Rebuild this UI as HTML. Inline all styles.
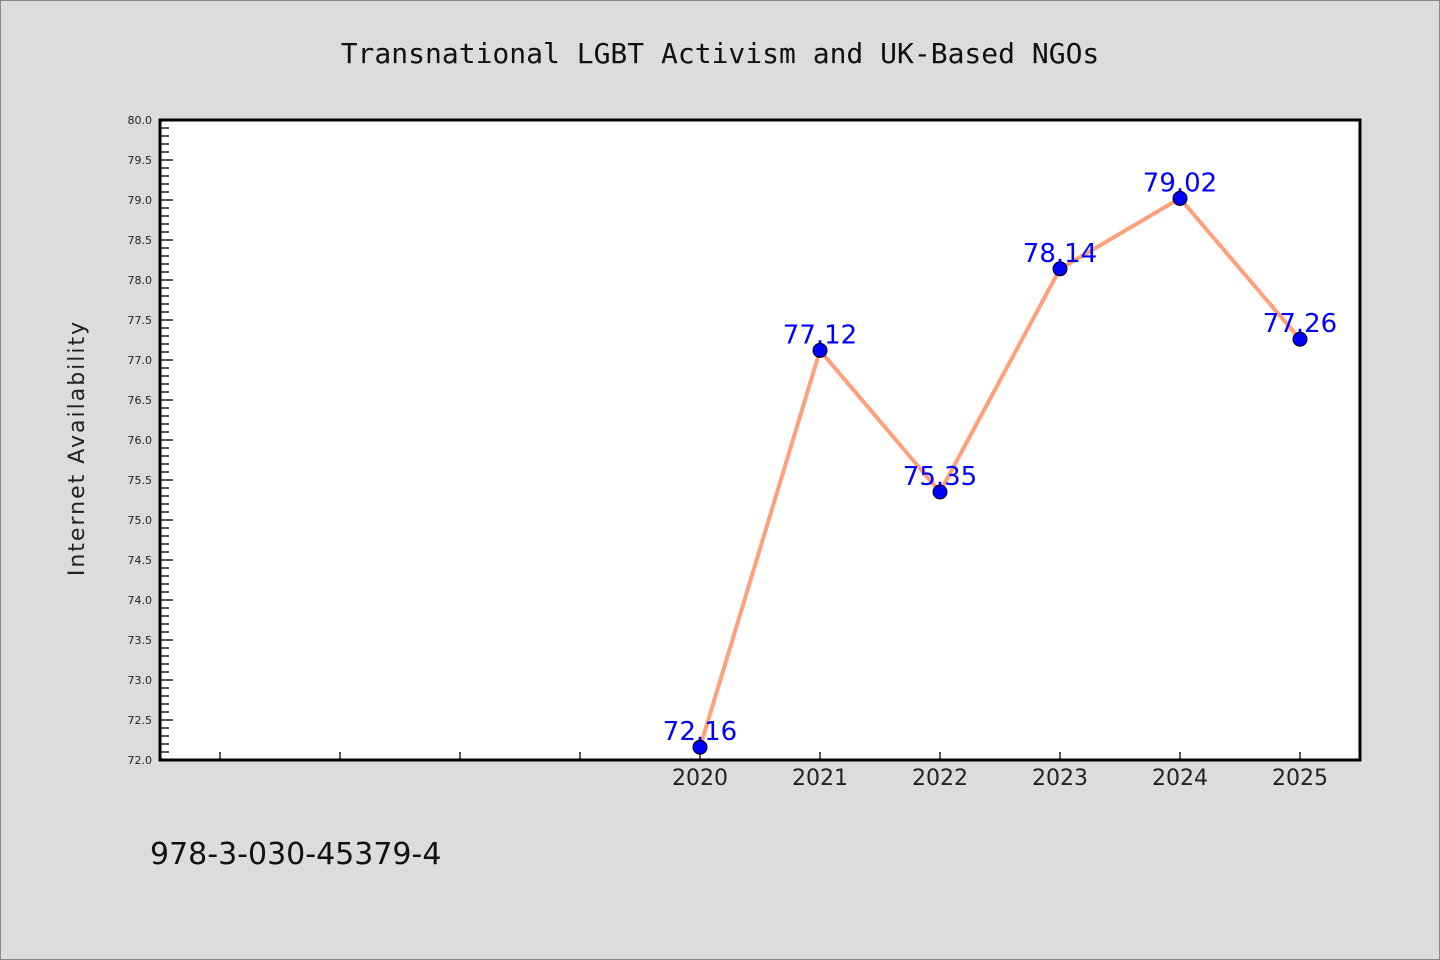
<!DOCTYPE html>
<html><head><meta charset="utf-8"><style>
html,body{margin:0;padding:0;background:#dcdcdc;}
svg{display:block;font-family:"DejaVu Sans","Liberation Sans",sans-serif;}
</style></head><body>
<svg width="1440" height="960" viewBox="0 0 1440 960">
<rect x="0.5" y="0.5" width="1439" height="959" fill="#dcdcdc" stroke="#888"/>
<text x="720" y="63" text-anchor="middle" font-family="DejaVu Sans Mono, Liberation Mono, monospace" font-size="28" fill="#111">Transnational LGBT Activism and UK-Based NGOs</text>
<rect x="160" y="120" width="1200" height="640" fill="#fff"/>
<g id="yticks"></g>
<g id="xticks"></g>
<rect x="160" y="120" width="1200" height="640" fill="none" stroke="#000" stroke-width="3"/>
<text transform="translate(84,448) rotate(-90)" text-anchor="middle" font-size="22" letter-spacing="2" fill="#222">Internet Availability</text>
<g id="series"></g>
<text x="150" y="864" font-size="30" fill="#111">978-3-030-45379-4</text>
</svg>
<script>
const categories = [2016,2017,2018,2019,2020,2021,2022,2023,2024,2025];
const labeledYears = [2020,2021,2022,2023,2024,2025];
const values = [72.16,77.12,75.35,78.14,79.02,77.26];
const yMin = 72, yMax = 80;
const NS = "http://www.w3.org/2000/svg";
const X0=160,X1=1360,Y0=760,Y1=120;
const xs = y => X0 + (y - 2015.5) / 10 * (X1 - X0);
const ys = v => Y0 - (v - yMin) / (yMax - yMin) * (Y0 - Y1);
function mk(tag, attrs, parent){const e=document.createElementNS(NS,tag);for(const k in attrs)e.setAttribute(k,attrs[k]);parent.appendChild(e);return e;}
const yt=document.getElementById('yticks');
for(let i=0;i<=80;i++){
  const v=yMin+i*0.1, y=ys(v), major=i%5===0;
  const t=mk('line',{x1:160,x2:major?173:169,y1:y,y2:y,stroke:'#000','stroke-width':1.3},yt);
  
  
  if(major){
    const l=mk('text',{x:152,y:y+4,'text-anchor':'end','font-size':11,fill:'#222'},yt);
    l.textContent=v.toFixed(1);
    
    
  }
}
const xt=document.getElementById('xticks');
categories.forEach(c=>{
  const x=xs(c);
  const t=mk('line',{x1:x,x2:x,y1:760,y2:752,stroke:'#000','stroke-width':1.3},xt);
  
  
  if(labeledYears.includes(c)){
    const l=mk('text',{x:x,y:785,'text-anchor':'middle','font-size':22,fill:'#222'},xt);
    l.textContent=c;
    
    
  }
});
const sg=document.getElementById('series');
const pts=values.map((v,i)=>xs(labeledYears[i])+','+ys(v)).join(' ');
const pl=mk('polyline',{points:pts,fill:'none',stroke:'#ffa07a','stroke-width':4,'stroke-linejoin':'round'},sg);


values.forEach((v,i)=>{
  const x=xs(labeledYears[i]), y=ys(v);
  const c=mk('circle',{cx:x,cy:y,r:7,fill:'#0000ff',stroke:'#000','stroke-width':1},sg);
  
  
  const t=mk('text',{x:x,y:y-7,'text-anchor':'middle','font-size':26,fill:'#0000ff'},sg);
  t.textContent=v.toFixed(2);
  
  
});
</script>
</body></html>
